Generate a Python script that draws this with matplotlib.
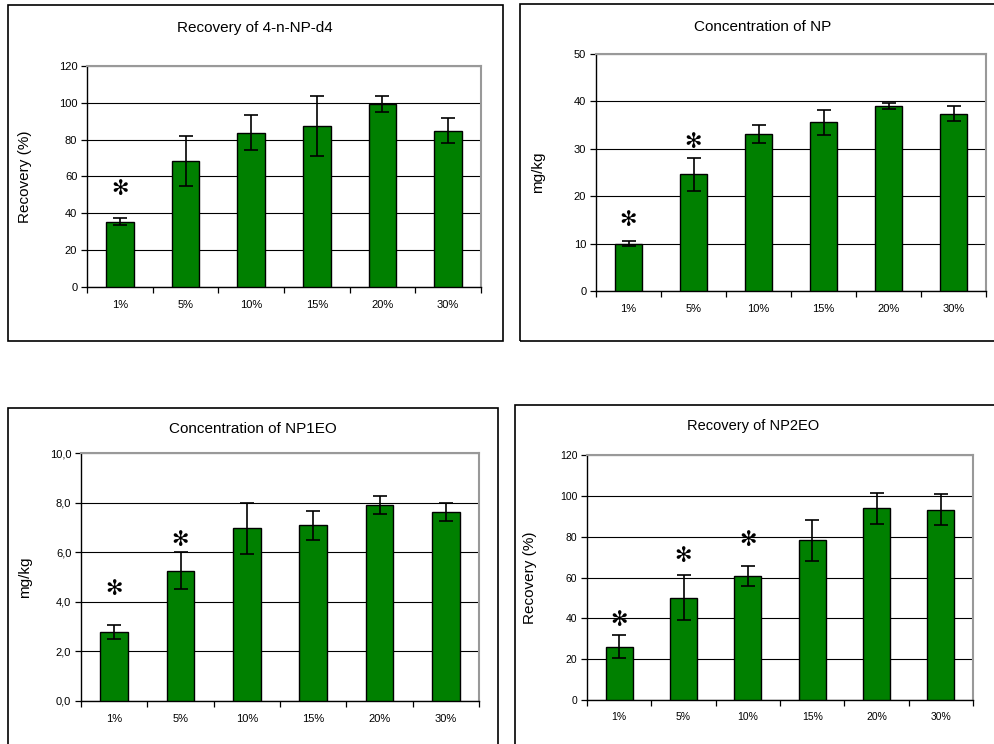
import numpy as np
import matplotlib
matplotlib.use("Agg")
import matplotlib.pyplot as plt
from matplotlib.patches import Rectangle
from matplotlib.ticker import FixedLocator

plt.rcParams['font.family'] = ['Liberation Sans', 'DejaVu Sans']

categories = ['1%', '5%', '10%', '15%', '20%', '30%']

# Recovery of 4-n-NP-d4
rec_d4 = [35.5, 68.6, 83.8, 87.6, 99.4, 84.9]
rec_d4_err = [1.8, 13.6, 9.4, 16.2, 4.4, 6.9]
rec_d4_star = [53.4, None, None, None, None, None]

# Concentration of NP
conc_np = [10.0, 24.6, 33.2, 35.6, 39.0, 37.4]
conc_np_err = [0.6, 3.5, 1.9, 2.6, 0.7, 1.6]
conc_np_star = [14.9, 31.4, None, None, None, None]

# Concentration of NP1EO
conc_np1eo = [2.78, 5.26, 6.96, 7.08, 7.92, 7.62]
conc_np1eo_err = [0.3, 0.75, 1.03, 0.57, 0.36, 0.36]
conc_np1eo_star = [4.53, 6.48, None, None, None, None]

# Recovery of NP2EO
rec_np2eo = [26.1, 50.1, 60.7, 78.2, 93.9, 93.2]
rec_np2eo_err = [5.7, 10.9, 4.7, 10.0, 7.7, 7.5]
rec_np2eo_star = [39.2, 70.5, 78.4, None, None, None]

W, H = 994, 744
fig = plt.figure(figsize=(W / 100, H / 100), dpi=100)


def px_box(x0, y0, x1, y1):
    # pixel box (top-left origin) -> figure fraction [left, bottom, width, height]
    return [x0 / W, 1 - y1 / H, (x1 - x0) / W, (y1 - y0) / H]


def border(x0, y0, x1, y1):
    l, b, w, h = px_box(x0, y0, x1, y1)
    fig.patches.append(Rectangle((l, b), w, h, transform=fig.transFigure,
                                 fill=False, edgecolor='black', linewidth=1.2))


def panel(box, values, errs, stars, ymax, ystep, title, title_xy, ylabel,
          ylabel_x, fmt, tick_fs=8, title_fs=11):
    ax = fig.add_axes(px_box(*box))
    x = np.arange(len(categories))
    ax.bar(x, values, width=0.42, color='#008000', edgecolor='black',
           linewidth=1.0, zorder=3)
    ax.errorbar(x, values, yerr=errs, fmt='none', ecolor='black',
                elinewidth=1.2, capsize=5, capthick=1.2, zorder=4)
    for xi, s in zip(x, stars):
        if s is not None:
            ax.text(xi, s, '✻', ha='center', va='center', fontsize=15,
                    fontweight='bold', family=['DejaVu Sans'], color='black',
                    zorder=5)
    ax.set_xlim(-0.5, len(categories) - 0.5)
    ax.set_ylim(0, ymax)
    yt = np.arange(0, ymax + ystep / 2, ystep)
    ax.set_yticks(yt)
    ax.set_yticklabels([fmt(v) for v in yt], fontsize=tick_fs)
    ax.yaxis.grid(True, color='black', linewidth=0.8, zorder=0)
    ax.set_axisbelow(True)
    ax.set_xticks(x)
    ax.set_xticklabels(categories, fontsize=tick_fs)
    ax.xaxis.set_minor_locator(FixedLocator(np.arange(-0.5, len(categories), 1.0)))
    ax.tick_params(axis='x', which='major', length=0, pad=9)
    ax.tick_params(axis='x', which='minor', length=4, width=0.9, direction='out')
    ax.tick_params(axis='y', length=4, width=0.9, direction='out', pad=3)
    for s in ('left', 'bottom'):
        ax.spines[s].set_color('black')
        ax.spines[s].set_linewidth(1.0)
    for s in ('top', 'right'):
        ax.spines[s].set_color('#999999')
        ax.spines[s].set_linewidth(1.5)
    fig.text(title_xy[0] / W, 1 - title_xy[1] / H, title, ha='center',
             va='center', fontsize=title_fs)
    fig.text(ylabel_x / W, 1 - (box[1] + box[3]) / 2 / H, ylabel, ha='center',
             va='center', rotation=90, fontsize=11)
    return ax


def fmt_int(v):
    return '%d' % round(v)


def fmt_comma(v):
    return ('%.1f' % v).replace('.', ',')


border(8, 5, 503, 341)
border(520, 4, 1010, 341)
border(8, 408, 498, 760)
border(515, 405, 1010, 760)

panel((87, 66, 481, 287), rec_d4, rec_d4_err, rec_d4_star, 120, 20,
      'Recovery of 4-n-NP-d4', (255, 28), 'Recovery (%)', 25, fmt_int)
panel((596, 54, 986, 291), conc_np, conc_np_err, conc_np_star, 50, 10,
      'Concentration of NP', (763, 27), 'mg/kg', 538, fmt_int)
panel((81, 453, 479, 701), conc_np1eo, conc_np1eo_err, conc_np1eo_star, 10, 2,
      'Concentration of NP1EO', (253, 429), 'mg/kg', 25, fmt_comma)
panel((587, 455, 973, 700), rec_np2eo, rec_np2eo_err, rec_np2eo_star, 120, 20,
      'Recovery of NP2EO', (753, 426), 'Recovery (%)', 530, fmt_int,
      tick_fs=7.5, title_fs=10.5)

fig.savefig('out.png', dpi=100)
